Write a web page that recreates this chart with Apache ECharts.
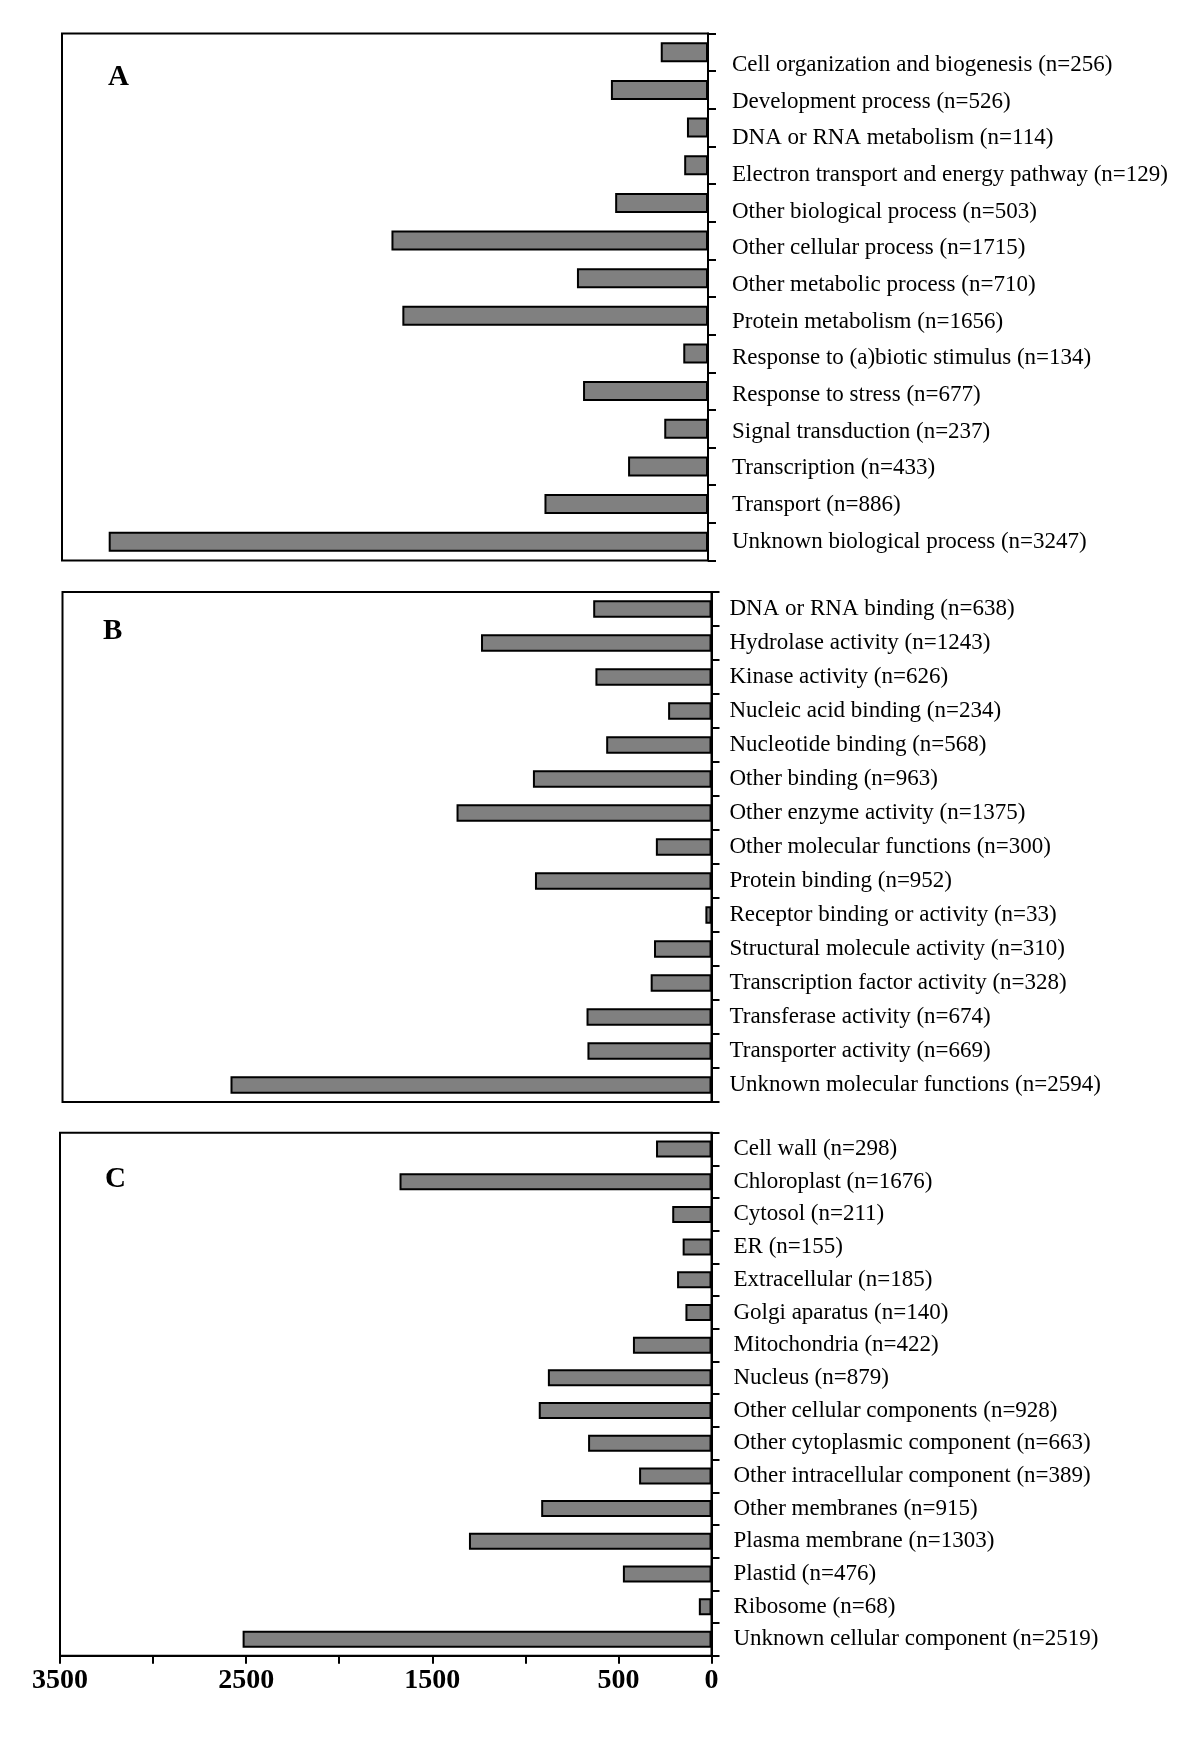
<!DOCTYPE html>
<html>
<head>
<meta charset="utf-8">
<script src="https://cdn.jsdelivr.net/npm/echarts@6/dist/echarts.min.js"></script>
<style>
html,body{margin:0;padding:0;background:#fff;}
#chart{width:1200px;height:1750px;}
</style>
</head>
<body>
<div id="chart"></div>
<script>
// ---- Data ----
const namesA = ['Cell organization and biogenesis','Development process','DNA or RNA metabolism','Electron transport and energy pathway','Other biological process','Other cellular process','Other metabolic process','Protein metabolism','Response to (a)biotic stimulus','Response to stress','Signal transduction','Transcription','Transport','Unknown biological process'];
const valuesA = [256,526,114,129,503,1715,710,1656,134,677,237,433,886,3247];

const namesB = ['DNA or RNA binding','Hydrolase activity','Kinase activity','Nucleic acid binding','Nucleotide binding','Other binding','Other enzyme activity','Other molecular functions','Protein binding','Receptor binding or activity','Structural molecule activity','Transcription factor activity','Transferase activity','Transporter activity','Unknown molecular functions'];
const valuesB = [638,1243,626,234,568,963,1375,300,952,33,310,328,674,669,2594];

const namesC = ['Cell wall','Chloroplast','Cytosol','ER','Extracellular','Golgi aparatus','Mitochondria','Nucleus','Other cellular components','Other cytoplasmic component','Other intracellular component','Other membranes','Plasma membrane','Plastid','Ribosome','Unknown cellular component'];
const valuesC = [298,1676,211,155,185,140,422,879,928,663,389,915,1303,476,68,2519];

const panelLetters = ['A','B','C'];
const xTickLabels = [0,500,1500,2500,3500];

// ---- Build ----
const lab = (names, vals) => names.map((n,i) => n + ' (n=' + vals[i] + ')');
const labelsA = lab(namesA, valuesA);
const labelsB = lab(namesB, valuesB);
const labelsC = lab(namesC, valuesC);

const FONT = '"Liberation Serif","Times New Roman",serif';
const gridBox = {show:true, borderColor:'#000', borderWidth:2, backgroundColor:'transparent'};

const hiddenX = (gi) => ({gridIndex:gi, type:'value', min:0, max:3500, inverse:true, show:false});
const barY = (gi, data) => ({
  gridIndex:gi, type:'category', data:data, inverse:true, position:'right',
  axisLine:{show:true, onZero:false, lineStyle:{color:'#000', width:2}},
  axisTick:{show:true, length:8, lineStyle:{color:'#000', width:2}},
  axisLabel:{show:false}, splitLine:{show:false}
});
const labelY = (gi, data, margin, showLine) => ({
  gridIndex:gi, type:'category', data:data, inverse:true, position:'right',
  axisLine:{show:showLine, onZero:false, lineStyle:{color:'#000', width:2}},
  axisTick:{show:showLine, length:8, lineStyle:{color:'#000', width:2}},
  axisLabel:{show:true, margin:margin, color:'#000', fontSize:23, fontFamily:FONT},
  splitLine:{show:false}
});
const barSeries = (xi, yi, vals, w) => ({
  type:'bar', xAxisIndex:xi, yAxisIndex:yi, data:vals, barWidth:w,
  itemStyle:{color:'#808080', borderColor:'#000', borderWidth:2},
  silent:true, animation:false
});

const option = {
  animation:false,
  backgroundColor:'#fff',
  grid:[
    Object.assign({left:62, top:33.5, width:646, height:527}, gridBox),
    {left:62, top:46.7, width:646, height:513.3, show:false},
    Object.assign({left:62.5, top:592, width:649, height:510}, gridBox),
    Object.assign({left:60, top:1132.7, width:651.5, height:523}, gridBox)
  ],
  xAxis:[
    hiddenX(0), hiddenX(1), hiddenX(2),
    {gridIndex:3, type:'value', min:0, max:3500, interval:500, inverse:true, position:'bottom',
     axisLine:{show:true, onZero:false, lineStyle:{color:'#000', width:2}},
     axisTick:{show:true, length:8, lineStyle:{color:'#000', width:2}},
     axisLabel:{margin:11, color:'#000', fontSize:28, fontWeight:'bold', fontFamily:FONT,
       formatter:(v) => xTickLabels.indexOf(v) >= 0 ? String(v) : ''},
     splitLine:{show:false}}
  ],
  yAxis:[
    barY(0, labelsA),
    labelY(1, labelsA, 24, false),
    labelY(2, labelsB, 18, true),
    labelY(3, labelsC, 22, true)
  ],
  series:[
    barSeries(0, 0, valuesA, 20),
    barSeries(2, 2, valuesB, 17.5),
    barSeries(3, 3, valuesC, 17)
  ],
  graphic:[
    {type:'text', left:108, top:63, style:{text:panelLetters[0], font:'bold 29px ' + FONT, fill:'#000'}},
    {type:'text', left:103, top:617, style:{text:panelLetters[1], font:'bold 29px ' + FONT, fill:'#000'}},
    {type:'text', left:105, top:1165, style:{text:panelLetters[2], font:'bold 29px ' + FONT, fill:'#000'}}
  ]
};

const chart = echarts.init(document.getElementById('chart'), null, {renderer:'canvas'});
chart.setOption(option);
</script>
</body>
</html>
